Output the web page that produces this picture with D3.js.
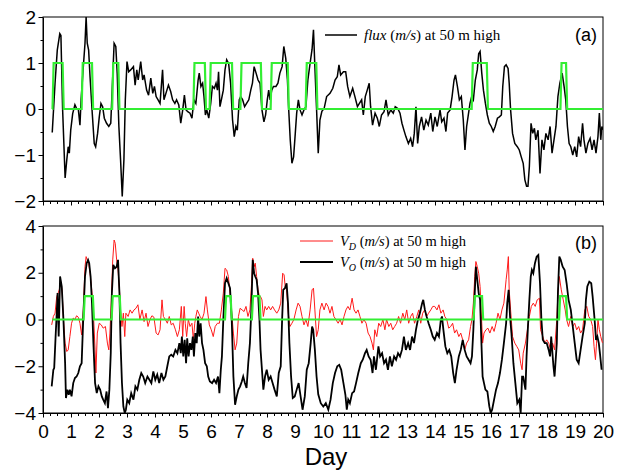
<!DOCTYPE html>
<html>
<head>
<meta charset="utf-8">
<script src="https://cdn.jsdelivr.net/npm/d3@7"></script>
<style>
  body { margin: 0; background: #fff; }
  svg { display: block; }
</style>
</head>
<body>
<svg id="chart"></svg>
<script>
// flux at 50 m (panel a), [day, m/s]
const flux = [[0.33,-0.51],[0.43,0.56],[0.51,1.28],[0.6,1.64],[0.64,1.6],[0.7,0],[0.79,-1.5],[0.85,-1.1],[0.9,-0.82],[0.94,-0.96],[0.99,-0.46],[1.06,-0.1],[1.14,0.09],[1.2,0.01],[1.26,0],[1.32,-0.35],[1.36,0.2],[1.44,0.92],[1.5,1.43],[1.54,2.0],[1.58,1.43],[1.63,1.28],[1.68,0.7],[1.76,-0.1],[1.83,-0.75],[1.88,-0.82],[1.95,-0.53],[2.01,-0.17],[2.07,0.12],[2.13,0.05],[2.19,-0.2],[2.27,-0.31],[2.35,-0.38],[2.42,-0.31],[2.48,0.56],[2.54,1.43],[2.6,1.36],[2.65,0.78],[2.71,-0.38],[2.77,-1.1],[2.83,-1.9],[2.89,-1.1],[2.94,0.2],[3.0,1.03],[3.06,0.81],[3.13,0.85],[3.23,0.92],[3.29,0.52],[3.35,0.85],[3.4,0.63],[3.49,1.03],[3.56,0.63],[3.61,0.74],[3.7,0.41],[3.77,0.3],[3.85,0.67],[3.92,0.34],[3.98,0.49],[4.04,0.27],[4.11,0.2],[4.18,0.12],[4.27,0.85],[4.32,0.2],[4.39,0.34],[4.48,0.52],[4.56,0.38],[4.63,0.2],[4.71,0.12],[4.77,0.2],[4.85,0.09],[4.92,-0.31],[4.99,-0.02],[5.05,0.3],[5.11,-0.02],[5.17,-0.06],[5.25,-0.09],[5.32,-0.2],[5.39,0.2],[5.46,0.12],[5.54,0.63],[5.58,0.78],[5.64,0.49],[5.7,0.56],[5.75,0.27],[5.8,-0.13],[5.85,-0.02],[5.92,-0.2],[5.99,0.12],[6.05,0.49],[6.12,0.45],[6.18,0.56],[6.23,0.41],[6.27,0.81],[6.32,0.05],[6.37,0.2],[6.44,0.41],[6.5,0.85],[6.56,1.07],[6.63,0.99],[6.7,0.56],[6.77,-0.24],[6.83,-0.6],[6.89,-0.38],[6.94,-0.46],[7.01,0.2],[7.06,0.27],[7.13,0.2],[7.2,0.05],[7.27,0.12],[7.35,0.2],[7.42,0.41],[7.48,0.56],[7.54,0.92],[7.61,0.78],[7.68,0.63],[7.75,0.56],[7.82,-0.02],[7.89,-0.28],[7.95,-0.13],[8.01,0.2],[8.06,0.41],[8.11,0.2],[8.17,0.41],[8.23,0.49],[8.32,0.49],[8.39,0.56],[8.46,0.78],[8.54,0.92],[8.6,1.36],[8.67,1.1],[8.73,0.63],[8.77,0.05],[8.83,-0.67],[8.89,-1.18],[8.95,-1.04],[9.01,-0.53],[9.06,-0.09],[9.12,0.2],[9.18,-0.02],[9.25,-0.13],[9.32,-0.02],[9.39,0.05],[9.46,0.63],[9.54,1.0],[9.61,1.3],[9.66,1.72],[9.71,0.92],[9.77,0],[9.83,-0.96],[9.89,-0.24],[9.96,-0.05],[10.04,0.01],[10.13,0.27],[10.25,0.34],[10.35,0.45],[10.43,0.63],[10.51,0.7],[10.57,0.96],[10.63,0.74],[10.73,0.81],[10.81,0.81],[10.88,0.49],[10.96,0.27],[11.06,0.45],[11.14,0.27],[11.23,0.05],[11.3,0.12],[11.38,0.2],[11.44,-0.13],[11.51,0.27],[11.58,0.41],[11.65,0.56],[11.7,0.05],[11.77,-0.35],[11.86,-0.09],[11.94,-0.2],[12.01,-0.38],[12.09,-0.13],[12.18,-0.06],[12.25,0.2],[12.33,-0.13],[12.42,-0.02],[12.51,-0.09],[12.58,0.05],[12.67,0.01],[12.75,-0.09],[12.82,-0.31],[12.89,-0.46],[12.96,-0.6],[13.05,-0.75],[13.13,-0.64],[13.2,-0.82],[13.26,-0.53],[13.32,0.05],[13.38,-0.75],[13.44,-0.38],[13.52,-0.17],[13.6,-0.46],[13.68,-0.24],[13.76,-0.35],[13.85,-0.09],[13.92,-0.49],[14.0,-0.17],[14.08,-0.38],[14.18,-0.02],[14.24,-0.28],[14.32,-0.2],[14.39,-0.49],[14.45,-0.09],[14.54,-0.02],[14.61,0.27],[14.68,0.63],[14.73,0.74],[14.8,0.49],[14.87,0.2],[14.94,0.27],[15.01,-0.24],[15.07,-0.89],[15.13,-0.38],[15.19,-0.13],[15.25,0.12],[15.31,0.27],[15.37,0.2],[15.44,0.63],[15.51,0.85],[15.56,1.2],[15.61,1.25],[15.67,0.78],[15.73,0.41],[15.8,0.12],[15.87,-0.13],[15.94,-0.31],[16.01,-0.38],[16.08,-0.49],[16.15,-0.38],[16.23,-0.2],[16.3,-0.17],[16.37,-0.13],[16.42,0.49],[16.48,0.92],[16.54,0.96],[16.61,0.88],[16.65,0.56],[16.7,-0.02],[16.77,-0.53],[16.85,-0.75],[16.94,-0.82],[17.01,-0.89],[17.08,-1.04],[17.15,-1.18],[17.21,-1.54],[17.27,-1.68],[17.32,-1.68],[17.37,-1.25],[17.43,-0.31],[17.49,-0.53],[17.55,-0.42],[17.6,-0.67],[17.68,-0.46],[17.75,-1.4],[17.82,-0.67],[17.89,-0.89],[17.96,-0.53],[18.04,-0.67],[18.11,-0.38],[18.18,-0.96],[18.25,-0.67],[18.32,-0.38],[18.39,0.27],[18.46,0.56],[18.54,0.78],[18.61,0.49],[18.67,0.2],[18.73,-0.38],[18.79,-0.75],[18.85,-0.82],[18.92,-1.0],[18.99,-0.82],[19.06,-1.04],[19.13,-0.6],[19.2,-0.82],[19.27,-0.31],[19.32,-0.67],[19.39,-0.96],[19.46,-0.75],[19.54,-0.64],[19.61,-0.89],[19.68,-0.67],[19.75,-0.96],[19.82,-0.6],[19.87,-0.09],[19.92,-0.67],[19.96,-0.38],[20.0,-0.45]];

// V_D at 50 m (panel b, red)
const vd = [[0.31,-0.23],[0.37,0.13],[0.43,0.27],[0.49,0.98],[0.54,1.13],[0.58,1.27],[0.63,1.62],[0.68,1.27],[0.73,0],[0.79,-1.01],[0.85,-1.37],[0.9,-1.3],[0.96,-0.73],[1.02,-0.16],[1.08,0.06],[1.14,0],[1.2,0.16],[1.26,0.1],[1.32,-0.16],[1.38,-0.66],[1.44,0.41],[1.5,2.26],[1.54,2.69],[1.58,2.55],[1.63,2.41],[1.68,1.98],[1.74,1.27],[1.8,0.27],[1.86,-1.3],[1.89,-2.29],[1.94,-0.58],[2.01,-0.16],[2.08,-0.23],[2.15,-0.37],[2.23,-0.3],[2.3,-1.01],[2.35,-1.3],[2.39,-0.58],[2.44,0.84],[2.49,2.55],[2.54,3.4],[2.58,3.26],[2.63,2.55],[2.68,2.12],[2.73,1.27],[2.77,0.41],[2.82,-0.3],[2.87,0.27],[2.92,-0.73],[2.96,0.27],[3.04,0.13],[3.11,0.41],[3.18,0.27],[3.25,0.41],[3.32,0.48],[3.39,0.63],[3.46,0],[3.54,0.41],[3.61,-0.09],[3.68,0.27],[3.75,-0.3],[3.82,0],[3.89,0.16],[3.96,0.1],[4.04,-0.58],[4.11,-0.66],[4.18,-0.44],[4.25,0.84],[4.3,0.13],[4.37,0],[4.44,-0.16],[4.51,0.13],[4.58,-0.23],[4.65,-0.16],[4.73,-0.44],[4.8,-0.73],[4.87,-0.44],[4.94,0.56],[4.99,-0.73],[5.04,0.56],[5.08,-0.16],[5.13,-0.73],[5.19,0],[5.25,-0.3],[5.32,-0.16],[5.37,-0.87],[5.42,-0.16],[5.46,0.13],[5.51,0.41],[5.56,0.27],[5.61,0.13],[5.68,0],[5.75,0.27],[5.82,0.98],[5.87,0.41],[5.94,-0.23],[6.01,-0.44],[6.08,-0.73],[6.15,-0.3],[6.23,-0.16],[6.3,-0.16],[6.37,0.41],[6.44,1.13],[6.5,2.19],[6.56,2.12],[6.62,1.84],[6.68,1.13],[6.74,0.27],[6.8,-0.58],[6.86,-1.3],[6.92,-1.01],[6.98,0.13],[7.04,0.48],[7.11,0.41],[7.18,0.34],[7.25,0.56],[7.32,0.13],[7.39,0.41],[7.45,1.55],[7.49,2.62],[7.54,2.26],[7.58,2.41],[7.63,1.84],[7.68,1.27],[7.73,0.98],[7.77,0.98],[7.82,0.84],[7.87,0.13],[7.93,0.56],[7.99,0.41],[8.06,0.56],[8.13,0.41],[8.2,0.56],[8.27,0.41],[8.35,0.27],[8.42,0.41],[8.49,0.7],[8.56,1.98],[8.61,1.91],[8.65,1.41],[8.7,1.27],[8.76,0.27],[8.82,-0.3],[8.89,-0.16],[8.96,0],[9.04,0.41],[9.11,0.7],[9.18,0.56],[9.25,0.13],[9.32,-0.23],[9.39,0],[9.46,-0.3],[9.54,0.41],[9.61,1.27],[9.66,1.34],[9.71,0.41],[9.77,-0.73],[9.83,-0.44],[9.89,0.41],[9.96,0.7],[10.04,0.41],[10.11,0.7],[10.18,0.56],[10.25,0.27],[10.32,0.56],[10.39,0.13],[10.46,0],[10.54,-0.16],[10.61,0],[10.68,-0.23],[10.75,0.13],[10.82,0.41],[10.89,0.56],[10.96,0.41],[11.04,0.91],[11.11,0.41],[11.18,0.27],[11.25,0.41],[11.32,0.13],[11.39,-0.16],[11.46,0],[11.54,-0.16],[11.61,-0.58],[11.68,-0.73],[11.75,-1.01],[11.8,-1.3],[11.85,-0.44],[11.92,-0.73],[11.99,-0.16],[12.06,-0.3],[12.14,0],[12.21,-0.44],[12.27,0],[12.35,-0.3],[12.42,-0.16],[12.49,-0.44],[12.56,-0.3],[12.63,-0.16],[12.7,0.13],[12.77,-0.16],[12.85,0.27],[12.92,0],[12.99,0.41],[13.06,-0.16],[13.13,0.13],[13.2,0.27],[13.27,-0.16],[13.35,0.13],[13.42,0.41],[13.49,-0.16],[13.56,0.27],[13.63,0.41],[13.7,0.13],[13.77,0.27],[13.85,0.41],[13.92,0.56],[13.99,0.56],[14.07,0.41],[14.14,0.63],[14.21,0.27],[14.29,0.41],[14.35,0.13],[14.42,0],[14.49,-0.37],[14.56,-0.3],[14.63,-0.16],[14.7,-0.58],[14.77,-0.44],[14.85,-0.73],[14.92,-0.58],[14.99,-0.87],[15.06,-1.3],[15.13,-1.01],[15.2,-0.87],[15.27,-0.3],[15.32,0],[15.37,0.7],[15.42,1.84],[15.46,2.48],[15.51,2.26],[15.56,1.98],[15.61,1.41],[15.65,0.41],[15.7,-1.01],[15.75,-0.58],[15.82,-0.44],[15.89,-0.37],[15.96,-0.58],[16.04,-0.3],[16.11,-0.51],[16.18,-0.16],[16.25,0.27],[16.32,0],[16.39,0.41],[16.46,0.7],[16.54,1.7],[16.58,2.12],[16.62,2.69],[16.65,1.27],[16.7,0.41],[16.77,-0.73],[16.85,-1.01],[16.92,-1.15],[16.99,-1.3],[17.06,-1.87],[17.11,-2.15],[17.15,-1.44],[17.23,-1.01],[17.3,-0.44],[17.37,0.13],[17.44,0.56],[17.51,0.7],[17.58,0.56],[17.65,0.84],[17.73,0.91],[17.77,-0.44],[17.85,-0.73],[17.92,-1.01],[17.99,-0.87],[18.06,-1.01],[18.13,-1.3],[18.2,-1.01],[18.27,-1.3],[18.35,0],[18.39,1.13],[18.44,1.84],[18.51,1.27],[18.58,0.84],[18.65,0.41],[18.7,0],[18.77,-0.3],[18.85,0.13],[18.92,-0.3],[18.99,-0.16],[19.06,-0.44],[19.13,-0.3],[19.2,-0.58],[19.27,-0.44],[19.35,0.41],[19.42,0.56],[19.49,0.13],[19.56,0],[19.63,-0.3],[19.68,-1.15],[19.73,-1.72],[19.77,-1.01],[19.82,0],[19.87,-0.44],[19.92,-0.73],[19.98,-1.0]];

// V_O at 50 m (panel b, black)
const vo = [[0.31,-2.86],[0.37,-2.15],[0.4,-2.08],[0.45,-0.73],[0.49,0.27],[0.52,1.13],[0.56,-0.73],[0.61,1.84],[0.67,1.41],[0.73,0],[0.79,-1.87],[0.82,-3.36],[0.87,-3.0],[0.92,-3.22],[0.96,-3.0],[1.02,-3.29],[1.08,-2.72],[1.14,-2.5],[1.2,-2.44],[1.26,-2.29],[1.32,-2.0],[1.38,-1.87],[1.44,0.13],[1.5,1.84],[1.56,2.41],[1.61,2.55],[1.65,2.41],[1.7,1.84],[1.75,0.7],[1.8,-1.01],[1.86,-2.72],[1.92,-3.15],[1.98,-2.86],[2.04,-3.0],[2.1,-3.29],[2.15,-3.43],[2.21,-3.58],[2.27,-3.08],[2.32,-3.79],[2.37,-3.0],[2.42,-1.44],[2.46,1.13],[2.51,2.34],[2.57,2.19],[2.63,2.26],[2.68,2.55],[2.73,1.13],[2.77,-1.01],[2.82,-2.72],[2.87,-3.72],[2.92,-4.0],[2.96,-3.86],[3.01,-3.43],[3.08,-3.58],[3.15,-3.15],[3.23,-3.43],[3.3,-2.86],[3.37,-3.0],[3.44,-2.58],[3.51,-2.29],[3.58,-2.44],[3.65,-2.72],[3.73,-2.44],[3.8,-2.58],[3.87,-2.72],[3.94,-2.22],[4.01,-2.58],[4.08,-2.36],[4.15,-2.72],[4.23,-2.29],[4.3,-2.58],[4.37,-2.44],[4.44,-2.0],[4.51,-1.58],[4.58,-1.51],[4.65,-1.58],[4.73,-1.3],[4.8,-1.44],[4.87,-1.01],[4.92,-1.44],[4.96,-0.73],[5.01,-1.58],[5.06,-0.87],[5.11,-1.87],[5.15,-0.8],[5.2,-1.58],[5.25,-1.01],[5.3,-1.3],[5.35,-0.73],[5.39,-1.58],[5.44,-0.58],[5.49,-1.01],[5.54,0.13],[5.58,-0.73],[5.63,-0.16],[5.68,-1.01],[5.73,-1.3],[5.79,-1.87],[5.85,-2.0],[5.9,-2.44],[5.96,-2.65],[6.04,-2.72],[6.11,-2.58],[6.18,-2.72],[6.25,-2.44],[6.3,-3.15],[6.35,-2.15],[6.39,-1.58],[6.44,0],[6.5,1.55],[6.56,1.77],[6.62,1.55],[6.68,1.34],[6.74,0],[6.8,-2.44],[6.86,-3.65],[6.92,-3.29],[6.98,-3.0],[7.04,-2.86],[7.1,-2.65],[7.15,-2.44],[7.21,-2.72],[7.27,-2.93],[7.33,-1.87],[7.39,-1.01],[7.44,0.41],[7.49,2.55],[7.54,1.98],[7.58,1.84],[7.63,1.7],[7.68,1.13],[7.73,0],[7.77,-1.3],[7.82,-2.15],[7.87,-3.0],[7.93,-2.44],[7.99,-2.15],[8.06,-2.58],[8.13,-2.44],[8.2,-2.72],[8.27,-3.0],[8.35,-3.29],[8.42,-2.29],[8.49,-2.0],[8.54,0],[8.58,1.27],[8.64,1.34],[8.7,1.55],[8.75,0.7],[8.8,-1.01],[8.86,-2.44],[8.92,-3.36],[8.99,-3.29],[9.06,-3.0],[9.13,-2.72],[9.2,-3.29],[9.27,-3.86],[9.35,-3.29],[9.42,-2.15],[9.49,-1.87],[9.56,-1.01],[9.61,-0.3],[9.65,-0.44],[9.71,-1.3],[9.77,-2.44],[9.83,-3.2],[9.92,-3.58],[10.01,-3.72],[10.1,-3.58],[10.19,-3.86],[10.27,-3.43],[10.35,-2.72],[10.43,-2.29],[10.51,-2.0],[10.58,-1.94],[10.65,-2.15],[10.73,-2.72],[10.8,-3.22],[10.85,-3.86],[10.9,-3.43],[10.96,-3.58],[11.04,-3.15],[11.11,-3.08],[11.18,-2.72],[11.26,-2.29],[11.35,-1.87],[11.42,-1.72],[11.5,-1.44],[11.56,-1.3],[11.63,-1.58],[11.7,-1.72],[11.77,-2.29],[11.82,-1.58],[11.89,-2.15],[11.98,-1.15],[12.04,-1.58],[12.11,-1.44],[12.18,-1.87],[12.25,-1.72],[12.32,-2.15],[12.39,-1.58],[12.46,-2.0],[12.54,-1.58],[12.61,-1.72],[12.68,-1.44],[12.75,-1.58],[12.82,-1.3],[12.89,-0.73],[12.96,-1.3],[13.04,-1.01],[13.11,-1.3],[13.18,-0.73],[13.25,-1.01],[13.32,-0.44],[13.39,0],[13.46,0.27],[13.54,0.7],[13.58,0.84],[13.64,0.41],[13.7,0.13],[13.77,-0.16],[13.85,-0.44],[13.92,-0.73],[13.99,-0.87],[14.07,-0.58],[14.14,-0.73],[14.21,0],[14.25,0.13],[14.3,-0.44],[14.37,-1.15],[14.44,-1.44],[14.51,-1.3],[14.58,-1.58],[14.65,-2.29],[14.71,-2.72],[14.77,-2.15],[14.85,-1.58],[14.92,-1.3],[14.99,-0.87],[15.06,-1.3],[15.13,-1.58],[15.2,-1.72],[15.27,-1.87],[15.32,-1.58],[15.37,-0.44],[15.42,1.13],[15.46,2.26],[15.51,1.7],[15.56,1.13],[15.61,0.84],[15.65,-0.73],[15.7,-2.44],[15.75,-2.72],[15.8,-3.0],[15.87,-3.08],[15.94,-3.72],[15.99,-4.0],[16.04,-3.86],[16.11,-3.43],[16.18,-3.0],[16.25,-2.72],[16.32,-2.29],[16.39,-1.72],[16.46,-1.01],[16.54,-0.16],[16.58,0.7],[16.63,1.27],[16.68,0.13],[16.73,-0.58],[16.8,-1.87],[16.87,-2.72],[16.94,-3.58],[17.01,-3.43],[17.06,-4.0],[17.11,-2.44],[17.15,-2.44],[17.23,-3.0],[17.27,-1.58],[17.32,-0.3],[17.37,0.84],[17.42,1.84],[17.46,2.12],[17.51,1.98],[17.57,2.41],[17.63,2.69],[17.69,2.76],[17.75,1.55],[17.8,0],[17.85,-0.87],[17.92,-1.01],[17.99,-1.01],[18.06,-1.3],[18.11,-1.58],[18.15,-0.73],[18.23,-2.0],[18.27,-2.44],[18.35,-1.01],[18.39,1.13],[18.44,2.69],[18.49,2.55],[18.56,2.26],[18.63,2.12],[18.7,1.55],[18.77,0.84],[18.85,0.41],[18.92,-0.3],[18.99,-1.01],[19.06,-1.72],[19.13,-1.87],[19.2,-1.3],[19.27,-0.73],[19.35,-0.16],[19.39,0.84],[19.44,1.41],[19.51,1.62],[19.58,1.55],[19.63,0.98],[19.7,0],[19.75,-0.87],[19.8,-0.73],[19.85,-1.01],[19.89,-1.44],[19.95,-2.15]];

// green flag: day ranges where it is 1 (otherwise 0), from day 0.33 to 20
const flagStart = 0.33, flagEnd = 20;
const flagTop = [[0.36,0.72],[1.40,1.77],[2.49,2.71],[5.39,5.8],[5.97,6.77],[7.07,7.8],[8.15,8.76],[9.4,9.78],[15.33,15.87],[18.5,18.7]];
const flagBot = [[1.47,1.8],[2.47,2.76],[6.52,6.72],[7.48,7.75],[15.4,15.7],[18.45,18.7]];

const xTicks = d3.range(0, 21);
const yTicksTop = [-2, -1, 0, 1, 2];
const yTicksBot = [-4, -2, 0, 2, 4];

const W = 626, H = 471;
const svg = d3.select("#chart").attr("width", W).attr("height", H);

const x = d3.scaleLinear().domain([0, 20]).range([43, 603]);
const panels = [
  { y: d3.scaleLinear().domain([-2, 2]).range([201, 17]), ticks: yTicksTop, minor: 0.5, labels: false, id: "a" },
  { y: d3.scaleLinear().domain([-4, 4]).range([413, 226]), ticks: yTicksBot, minor: 1, labels: true, id: "b" }
];

const axisFont = "Liberation Sans, Arial, sans-serif";
const serif = "Liberation Serif, Times New Roman, serif";
const green = "#33ee33";

function stepPoints(ranges) {
  const pts = [[flagStart, 0]];
  ranges.forEach(([a, b]) => {
    pts.push([a - 0.02, 0], [a + 0.02, 1], [b - 0.02, 1], [b + 0.02, 0]);
  });
  pts.push([flagEnd, 0]);
  return pts;
}

panels.forEach(p => {
  const g = svg.append("g");
  const [y0, y1] = p.y.range();

  g.append("clipPath").attr("id", "clip-" + p.id)
    .append("rect").attr("x", 43).attr("y", y1).attr("width", 560).attr("height", y0 - y1);

  // x axis: major + minor ticks
  const minorX = d3.range(0, 20.001, 0.25).filter(d => Math.abs(d - Math.round(d)) > 1e-6);
  g.append("g").attr("transform", `translate(0,${y0})`)
    .call(d3.axisBottom(x).tickValues(minorX).tickSize(3).tickSizeOuter(0).tickFormat(""))
    .call(a => a.select(".domain").remove());
  const xa = g.append("g").attr("transform", `translate(0,${y0})`)
    .call(d3.axisBottom(x).tickValues(xTicks).tickSize(4.5).tickSizeOuter(0)
      .tickFormat(p.labels ? d3.format("d") : ""));
  xa.selectAll("text").attr("font-family", axisFont).attr("font-size", 19).attr("fill", "#000")
    .attr("y", 10).attr("dy", "0.8em");

  // y axis
  const [lo, hi] = p.y.domain();
  const minorY = d3.range(lo, hi + 0.001, p.minor).filter(v => !p.ticks.includes(v));
  g.append("g").attr("transform", "translate(43,0)")
    .call(d3.axisLeft(p.y).tickValues(minorY).tickSize(2.5).tickSizeOuter(0).tickFormat(""))
    .call(a => a.select(".domain").remove());
  const ya = g.append("g").attr("transform", "translate(43,0)")
    .call(d3.axisLeft(p.y).tickValues(p.ticks).tickSize(4.5).tickSizeOuter(0).tickFormat(d3.format("d")));
  ya.selectAll("text").attr("font-family", axisFont).attr("font-size", 19).attr("fill", "#000").attr("x", -7);

  // frame
  g.append("rect").attr("x", 43).attr("y", y1).attr("width", 560).attr("height", y0 - y1)
    .attr("fill", "none").attr("stroke", "#000").attr("stroke-width", 1);

  const line = d3.line().x(d => x(d[0])).y(d => p.y(d[1]));
  const plot = g.append("g").attr("clip-path", `url(#clip-${p.id})`);

  if (p.id === "a") {
    plot.append("path").attr("d", line(flux)).attr("fill", "none").attr("stroke", "#000").attr("stroke-width", 1.5);
    plot.append("path").attr("d", line(stepPoints(flagTop))).attr("fill", "none").attr("stroke", green).attr("stroke-width", 2.2);
  } else {
    plot.append("path").attr("d", line(vd)).attr("fill", "none").attr("stroke", "#ff1a1a").attr("stroke-width", 1);
    plot.append("path").attr("d", line(vo)).attr("fill", "none").attr("stroke", "#000").attr("stroke-width", 1.8);
    plot.append("path").attr("d", line(stepPoints(flagBot))).attr("fill", "none").attr("stroke", green).attr("stroke-width", 2.2);
  }

  // panel letter
  g.append("text").attr("x", 597).attr("y", p.id === "a" ? 41 : 249).attr("text-anchor", "end")
    .attr("font-family", axisFont).attr("font-size", 18).text(`(${p.id})`);
});

// legends
function legendEntry(x0, x1, yy, color, w, fsz, parts) {
  svg.append("line").attr("x1", x0).attr("x2", x1).attr("y1", yy).attr("y2", yy)
    .attr("stroke", color).attr("stroke-width", w);
  const t = svg.append("text").attr("x", x1 + 7).attr("y", yy + 5)
    .attr("font-family", serif).attr("font-size", fsz).attr("fill", "#000");
  parts.forEach(([s, it, dy, fs]) => {
    const ts = t.append("tspan").text(s);
    if (it) ts.attr("font-style", "italic");
    if (dy) ts.attr("dy", dy);
    if (fs) ts.attr("font-size", fs);
  });
}
legendEntry(325, 357, 35, "#000", 1.5, 15,
  [["flux", true], [" (", false], ["m/s", true], [") at 50 m high", false]]);
legendEntry(300, 333, 241, "#ff1a1a", 1, 14.5,
  [["V", true], ["D", true, 4, 10], [" (", false, -4], ["m/s", true], [") at 50 m high", false]]);
legendEntry(300, 333, 262, "#000", 1.8, 14.5,
  [["V", true], ["O", true, 4, 10], [" (", false, -4], ["m/s", true], [") at 50 m high", false]]);

// x title
svg.append("text").attr("x", 326).attr("y", 465).attr("text-anchor", "middle")
  .attr("font-family", axisFont).attr("font-size", 24).text("Day");
</script>
</body>
</html>
